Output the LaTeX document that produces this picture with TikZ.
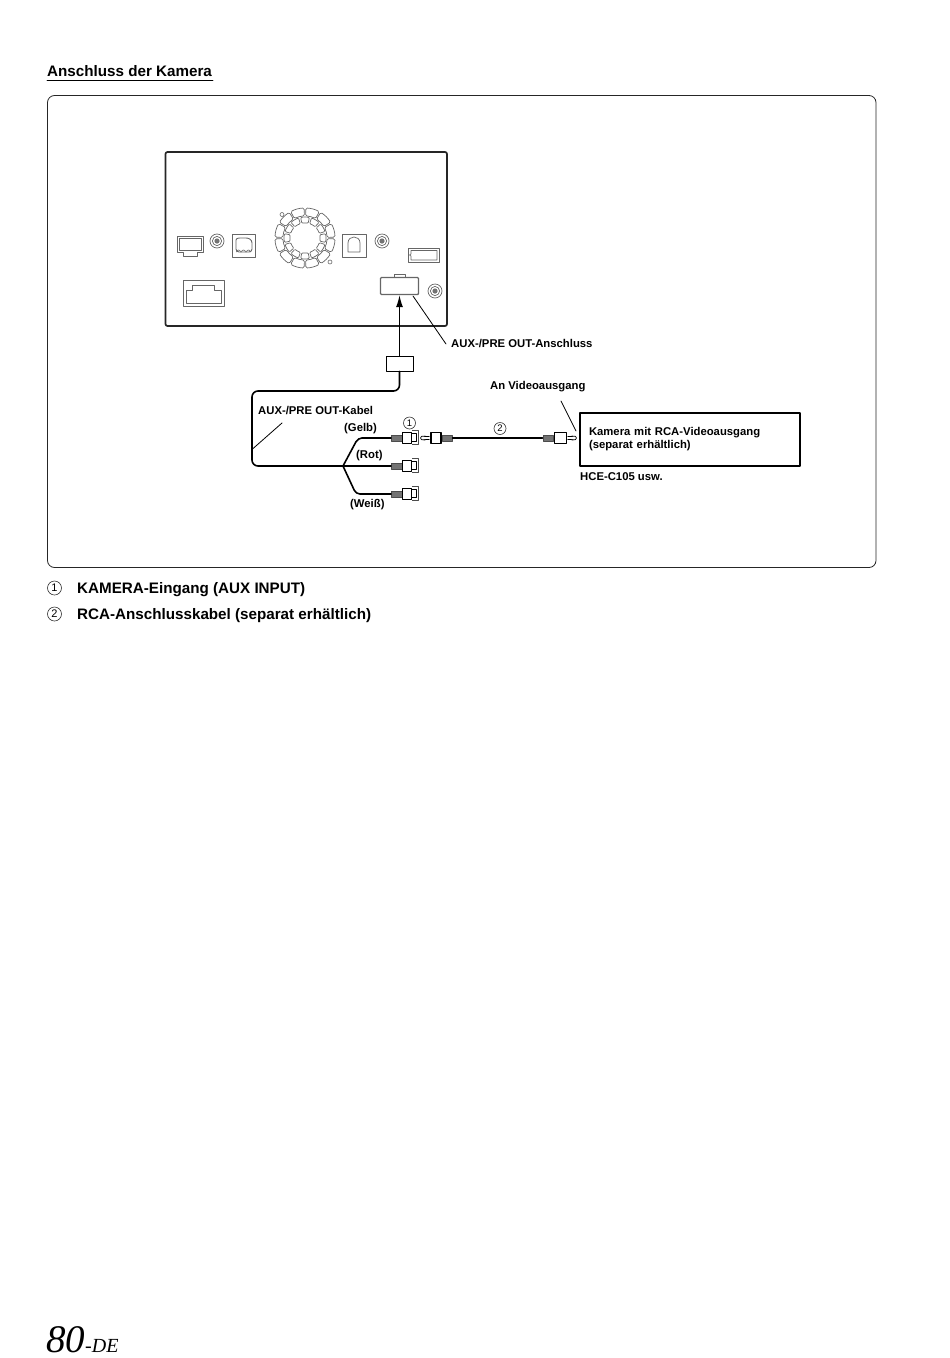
\documentclass[tikz,border=0pt]{standalone}
\usepackage{fontspec}
\setmainfont{Liberation Sans}
\newfontfamily\pageserif{Liberation Serif}
\usetikzlibrary{positioning,calc,arrows.meta}

\tikzset{
	lbl/.style={font=\bfseries\fontsize{11.3}{13}\selectfont, anchor=base west, inner sep=0pt},
	itemtxt/.style={font=\bfseries\fontsize{15.2}{17}\selectfont, anchor=base west, inner sep=0pt},
	numcirc/.style={circle, draw=black!80, line width=0.6pt, inner sep=0pt, minimum size=12pt, font=\fontsize{9.5}{9.5}\selectfont},
	portline/.style={draw=black!60, line width=0.9pt},
	screwring/.style={draw=black!60, line width=0.7pt},
	cable/.style={draw=black, line width=1.6pt},
	leader/.style={draw=black, line width=0.8pt},
	ribs/.style={rectangle, draw=black!70, fill=black!55, line width=0.5pt, inner sep=0pt, minimum width=10.5pt, minimum height=6pt},
	bodyblk/.style={rectangle, draw=black, line width=1.3pt, fill=white, inner sep=0pt, minimum width=10pt, minimum height=11.5pt},
}

\begin{document}
\begin{tikzpicture}[x=1pt,y=-1pt, line cap=round, line join=round]
	\useasboundingbox (0,0) rectangle (950,1358);
	
	% ===== title + frame =====
	\node[lbl, font=\bfseries\fontsize{15.2}{17}\selectfont] (title) at (47,76) {Anschluss der Kamera};
	\draw[line width=0.7pt] (47,80.5) -- (213,80.5);
	\draw[draw=black!85, line width=0.8pt, rounded corners=7] (47.5,95.5) rectangle (876,567.5);
	
	% ===== rear of the unit =====
	\draw[black!85, line width=1.7pt, rounded corners=2] (165.5,152) rectangle (447,326);
	
	% left connector with tab
	\draw[portline] (177,236) -- (203,236) -- (203,252) -- (197,252) -- (197,256) -- (183,256) -- (183,252) -- (177,252) -- cycle;
	\draw[portline, line width=0.6pt] (179,238) rectangle (201,250);
	
	% screws
	\foreach \x/\y in {217/241, 382/241, 435/291}{
		\draw[screwring] (\x,\y) circle (7);
		\draw[screwring] (\x,\y) circle (4.6);
		\fill[black!55] (\x,\y) circle (2.6);
	}
	
	% square sockets
	\draw[portline] (232,234) rectangle (255,257);
	\draw[portline, rounded corners=3] (236,252) -- (236,243) .. controls (236,238) and (240,238) .. (243,238) .. controls (248,238) and (252,239) .. (252,246) -- (252,252) -- cycle;
	\foreach \x in {238.5,243.5,248.5}{
		\draw[portline, line width=0.6pt] (\x-2,252) arc[start angle=180, end angle=360, radius=2];
	}
	\draw[portline] (342,234) rectangle (366,257);
	\draw[portline, line width=0.7pt] (348,252) -- (348,243) .. controls (348,235) and (360,235) .. (360,243) -- (360,252) -- cycle;
	
	% fan
	\begin{scope}[shift={(305,238)}, x=1pt, y=1pt]
		\foreach \a in {0,30,...,330}{
			\draw[portline, line width=0.7pt, rounded corners=1.5] (\a+1.5:22) arc[start angle=\a+1.5, end angle=\a+28.5, radius=22] -- (\a+28.5:30) arc[start angle=\a+28.5, end angle=\a+1.5, radius=30] -- cycle;
			\draw[portline, line width=0.7pt, rounded corners=1] (\a+18:15) arc[start angle=\a+18, end angle=\a+42, radius=15] -- (\a+42:21) arc[start angle=\a+42, end angle=\a+18, radius=21] -- cycle;
		}
	\end{scope}
	\draw[portline, line width=0.6pt] (282,214.5) circle (2);
	\draw[portline, line width=0.6pt] (330,262) circle (2);
	
	% display socket
	\draw[portline] (408,248) rectangle (439.5,262.5);
	\draw[portline, line width=0.6pt] (411,250.5) -- (437,250.5) -- (437,260) -- (411,260) -- (411,256) -- (409.5,255) -- (411,254) -- cycle;
	
	% large socket
	\draw[portline] (183,280) rectangle (224,306);
	\draw[portline] (186,303) -- (186,290) -- (192,290) -- (192,285) -- (214,285) -- (214,290) -- (221,290) -- (221,303) -- cycle;
	
	% AUX socket
	\node[rectangle, portline, line width=1.4pt, rounded corners=1, minimum width=38pt, minimum height=17pt, inner sep=0pt] (auxport) at (399.5,286) {};
	\draw[portline] (394,277.5) -- (394,274) -- (405.5,274) -- (405.5,277.5);
	
	% ===== adapter + main cable =====
	\node[rectangle, draw=black, line width=1pt, minimum width=27pt, minimum height=15pt, inner sep=0pt] (adapter) at (399.5,363.5) {};
	\draw[black, line width=1.1pt, -{Latex[length=12pt,width=7pt]}] (adapter.north) -- (auxport.south);
	
	\coordinate (cableleft) at (252,391);
	\coordinate (junct) at (343,466);
	\draw[cable, rounded corners=6] (adapter.south) |- (cableleft) |- (junct);
	
	% ===== three camera plugs =====
	\foreach \name/\y in {plugA/438, plugB/466, plugC/494}{
		\node[ribs] (\name) at (396.5,\y) {};
		\node[bodyblk, minimum width=9pt, right=0pt of \name] (\name body) {};
		\draw[black!70, line width=0.6pt] (\name body.north east) ++(0,-1) -- ++(6,0) -- ++(0,13.5) -- ++(-6,0);
		\draw[black, line width=0.9pt] (\name body.north east) ++(0,2) -- ++(4,0) -- ++(0,7.5) -- ++(-4,0);
	}
	\draw[cable, rounded corners=4] (junct) -- (358,438) -- (plugA.west);
	\draw[cable] (junct) -- (plugB.west);
	\draw[cable, rounded corners=4] (junct) -- (356,494) -- (plugC.west);
	
	% ===== RCA lead =====
	\node[ribs] (ribL) at (447,438) {};
	\node[bodyblk, left=0pt of ribL] (bodyL) {};
	\node[ribs] (ribR) at (548,438) {};
	\node[bodyblk, right=0pt of ribR, minimum width=12pt] (bodyR) {};
	\draw[line width=0.8pt, rounded corners=1] (bodyL.west) ++(-1,-1.5) -- ++(-4,0) -- ++(-1,-0.5) -- ++(-3.5,0.5) -- ++(0,3) -- ++(3.5,0.5) -- ++(1,-0.5) -- ++(4,0);
	\draw[line width=0.8pt, rounded corners=1] (bodyR.east) ++(1,-1.5) -- ++(4,0) -- ++(1,-0.5) -- ++(3.5,0.5) -- ++(0,3) -- ++(-3.5,0.5) -- ++(-1,-0.5) -- ++(-4,0);
	\draw[line width=1.2pt] (ribL.east) -- (ribR.west);
	
	% ===== camera box =====
	\node[rectangle, draw=black, line width=1.7pt, minimum width=220pt, minimum height=53pt, text width=202pt, inner xsep=9pt, align=left, font=\bfseries\fontsize{11.3}{13}\selectfont] (camera) at (690,439.5) {Kamera mit RCA-Videoausgang\\(separat erhältlich)};
	
	% ===== labels =====
	\node[lbl] (auxlabel) at (451,347) {AUX-/PRE OUT-Anschluss};
	\node[lbl] (videolabel) at (490,389) {An Videoausgang};
	\node[lbl] (kabellabel) at (258,414.5) {AUX-/PRE OUT-Kabel};
	\node[lbl] (gelb) at (344,431.5) {(Gelb)};
	\node[lbl] (rot) at (356,458) {(Rot)};
	\node[lbl] (weiss) at (350,507) {(Weiß)};
	\node[lbl] (hce) at (580,480) {HCE-C105 usw.};
	\node[numcirc] (numA) at (409.5,423) {1};
	\node[numcirc] (numB) at (500,428.5) {2};
	
	% ===== leader lines =====
	\coordinate (auxfoot) at (413,296);
	\coordinate (auxend) at (446,344);
	\draw[leader] (auxfoot) -- (auxend);
	\coordinate (kabelend) at (282,423);
	\coordinate (kabelfoot) at (252.5,449);
	\draw[leader] (kabelend) -- (kabelfoot);
	\coordinate (videoend) at (561,401);
	\coordinate (videofoot) at (576,431);
	\draw[leader] (videoend) -- (videofoot);
	
	% ===== legend =====
	\node[numcirc, minimum size=14pt, font=\fontsize{11}{11}\selectfont] (legA) at (54.5,588) {1};
	\node[itemtxt] (legAtxt) at (77,593) {KAMERA-Eingang (AUX INPUT)};
	\node[numcirc, minimum size=14pt, font=\fontsize{11}{11}\selectfont] (legB) at (54.5,614) {2};
	\node[itemtxt] (legBtxt) at (77,619) {RCA-Anschlusskabel (separat erhältlich)};
	
	% ===== page number =====
	\node[anchor=base west, inner sep=0pt, font=\pageserif\itshape\fontsize{39}{39}\selectfont] (pagenum) at (46,1352.5) {80};
	\node[inner sep=0pt, font=\pageserif\itshape\fontsize{20}{20}\selectfont, anchor=base west] (pagede) at (85,1352) {-DE};
\end{tikzpicture}
\end{document}
